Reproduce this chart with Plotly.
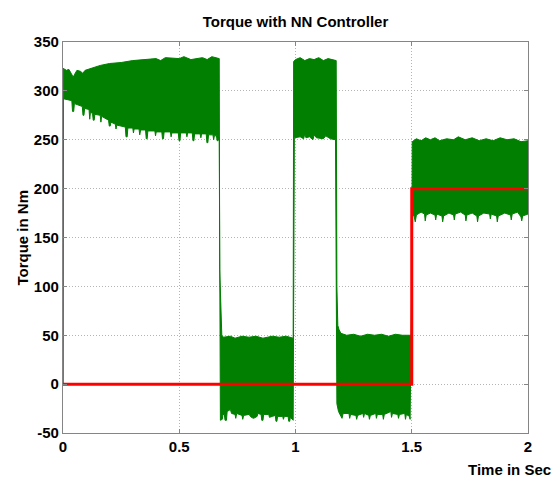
import plotly.graph_objects as go

# Reference torque (step)
ref_t = [0.0, 1.5, 1.5, 2.0]
ref_y = [0.0, 0.0, 200.0, 200.0]

# Upper envelope of the oscillating NN-controller torque
upper_t = [0.0, 0.001, 0.015, 0.025, 0.035, 0.044, 0.05, 0.06, 0.075, 0.085, 0.095, 0.13, 0.16, 0.2, 0.25, 0.3,
           0.35, 0.4, 0.42, 0.44, 0.5, 0.52, 0.55, 0.6, 0.62, 0.64, 0.672,
           0.674, 0.683, 0.69, 0.72, 0.74, 0.77, 0.8, 0.83, 0.86, 0.9, 0.93, 0.96, 0.99,
           0.992, 1.0, 1.02, 1.04, 1.06, 1.08, 1.1, 1.12, 1.14, 1.16, 1.175,
           1.178, 1.182, 1.187, 1.195, 1.22, 1.25, 1.28, 1.31, 1.34, 1.37, 1.4, 1.43, 1.46, 1.499,
           1.502, 1.52, 1.54, 1.56, 1.58, 1.6, 1.62, 1.65, 1.68, 1.7, 1.73, 1.76, 1.79, 1.82, 1.85,
           1.88, 1.91, 1.94, 1.97, 2.0]
upper_v = [0, 323, 321, 322, 318, 314, 317, 321, 320, 318, 321, 324, 326, 328, 329, 331,
           332, 333, 331, 334, 333, 335, 332, 334, 332, 335, 333,
           117, 50, 48, 49, 47, 49, 48, 49, 47, 49, 48, 49, 47,
           330, 332, 334, 331, 333, 332, 334, 331, 333, 332, 331,
           100, 60, 56, 52, 50, 51, 49, 51, 50, 51, 49, 51, 50, 50,
           248, 251, 249, 252, 250, 252, 249, 251, 250, 253, 250, 252, 249, 251, 249,
           252, 250, 251, 248, 249]

# Lower envelope
lower_t = [0.0, 0.001, 0.038, 0.041, 0.046, 0.049, 0.083, 0.086, 0.09, 0.093, 0.112, 0.115, 0.118, 0.127, 0.13,
           0.134, 0.137, 0.16, 0.163, 0.166, 0.196, 0.199, 0.203, 0.206, 0.225, 0.228, 0.231, 0.268, 0.271,
           0.276, 0.279, 0.3, 0.303, 0.306, 0.327, 0.33, 0.334, 0.355, 0.358, 0.362, 0.365, 0.395, 0.398,
           0.401, 0.425, 0.428, 0.432, 0.435, 0.462, 0.465, 0.468, 0.496, 0.499, 0.503, 0.506, 0.53, 0.533,
           0.536, 0.556, 0.559, 0.563, 0.566, 0.59, 0.593, 0.596, 0.616, 0.619, 0.623, 0.626, 0.645, 0.648,
           0.651, 0.66, 0.663, 0.667, 0.672,
           0.677, 0.685, 0.688, 0.694, 0.697, 0.703, 0.706, 0.72, 0.725, 0.74, 0.743, 0.747, 0.77, 0.773,
           0.777, 0.8, 0.81, 0.82, 0.835, 0.838, 0.852, 0.855, 0.86, 0.863, 0.885, 0.888, 0.9, 0.913, 0.916,
           0.92, 0.923, 0.945, 0.948, 0.952, 0.968, 0.971, 0.975, 0.978, 0.99,
           0.995, 1.02, 1.035, 1.04, 1.045, 1.06, 1.075, 1.08, 1.09, 1.12, 1.13, 1.15, 1.172,
           1.178, 1.185, 1.195, 1.2, 1.205, 1.23, 1.233, 1.237, 1.26, 1.263, 1.267, 1.29, 1.293, 1.297,
           1.315, 1.318, 1.322, 1.345, 1.348, 1.352, 1.375, 1.378, 1.382, 1.41, 1.413, 1.417, 1.44, 1.443,
           1.447, 1.47, 1.473, 1.477, 1.49, 1.493,
           1.503, 1.51, 1.515, 1.52, 1.54, 1.555, 1.558, 1.562, 1.58, 1.6, 1.603, 1.607, 1.63, 1.633, 1.637,
           1.66, 1.68, 1.683, 1.687, 1.71, 1.73, 1.733, 1.737, 1.76, 1.78, 1.783, 1.787, 1.81, 1.835, 1.838,
           1.842, 1.865, 1.868, 1.872, 1.9, 1.925, 1.928, 1.932, 1.955, 1.97, 1.973, 1.977, 2.0]
lower_v = [0, 292, 290, 279, 279, 287, 284, 275, 275, 282, 281, 271, 278, 277, 270,
           270, 276, 275, 268, 274, 270, 264, 264, 268, 266, 261, 265, 263, 253,
           253, 262, 262, 257, 261, 261, 255, 260, 260, 251, 251, 259, 259, 254,
           258, 258, 251, 251, 258, 258, 253, 257, 257, 249, 249, 257, 257, 253,
           257, 257, 249, 249, 256, 256, 252, 256, 256, 247, 247, 255, 255, 250,
           254, 254, 249, 249, 252,
           -37, -36, -31, -31, -37, -37, -28, -26, -30, -31, -35, -30, -32, -36,
           -32, -31, -34, -35, -33, -30, -31, -37, -37, -31, -31, -34, -33, -32, -38,
           -38, -33, -33, -36, -33, -33, -38, -38, -34, -37,
           252, 253, 251, 256, 252, 253, 250, 255, 252, 251, 254, 251, 250,
           -20, -28, -32, -35, -30, -30, -35, -31, -32, -36, -32, -30, -34, -30,
           -32, -36, -32, -30, -35, -31, -31, -36, -31, -28, -34, -30, -31, -35,
           -31, -30, -36, -31, -33, -36,
           173, 172, 166, 173, 176, 174, 167, 173, 175, 173, 168, 174, 172, 166, 172,
           175, 173, 168, 174, 176, 173, 167, 173, 175, 172, 166, 172, 175, 174, 169,
           174, 172, 166, 172, 175, 173, 168, 174, 176, 171, 167, 172, 174]

x_ticks = [0, 0.5, 1, 1.5, 2]
y_ticks = [-50, 0, 50, 100, 150, 200, 250, 300, 350]

GREEN = "#007f00"
FONT = "Liberation Sans, Arial, sans-serif"

fig = go.Figure()
fig.add_trace(go.Scatter(
    x=upper_t + lower_t[::-1], y=upper_v + lower_v[::-1],
    mode="lines", fill="toself", fillcolor=GREEN,
    line=dict(color=GREEN, width=1), hoverinfo="skip", showlegend=False))
fig.add_trace(go.Scatter(
    x=ref_t, y=ref_y, mode="lines",
    line=dict(color="#ff0000", width=3), showlegend=False))

axis_common = dict(
    showline=True, linecolor="#858585", linewidth=1.2, mirror="ticks",
    ticks="inside", ticklen=4, tickcolor="#858585",
    showgrid=True, gridcolor="#b4b4b4", griddash="1px,2px", gridwidth=1,
    zeroline=False,
    tickfont=dict(family=FONT, size=15, color="#000000", weight="bold"),
)

fig.update_xaxes(range=[0, 2], tickvals=x_ticks, ticktext=[f"{v:g}" for v in x_ticks], **axis_common)
fig.update_yaxes(range=[-50, 350], tickvals=y_ticks, ticktext=[str(v) for v in y_ticks], **axis_common)

fig.update_layout(
    width=552, height=477,
    margin=dict(l=55, r=32, t=34, b=52),
    plot_bgcolor="white", paper_bgcolor="white",
    title=dict(text="<b>Torque with NN Controller</b>", xref="paper", x=0.5, xanchor="center",
               y=0.971, yanchor="middle",
               font=dict(family=FONT, size=15, color="#000000")),
    annotations=[
        dict(text="<b>Time in Sec</b>", xref="paper", yref="paper", x=1.054, y=-0.0946,
             xanchor="right", yanchor="middle", showarrow=False,
             font=dict(family=FONT, size=15, color="#000000")),
        dict(text="<b>Torque in Nm</b>", xref="paper", yref="paper", x=-0.088, y=0.5,
             xanchor="center", yanchor="middle", textangle=-90, showarrow=False,
             font=dict(family=FONT, size=15, color="#000000")),
    ],
)

fig.write_html("out.html")
